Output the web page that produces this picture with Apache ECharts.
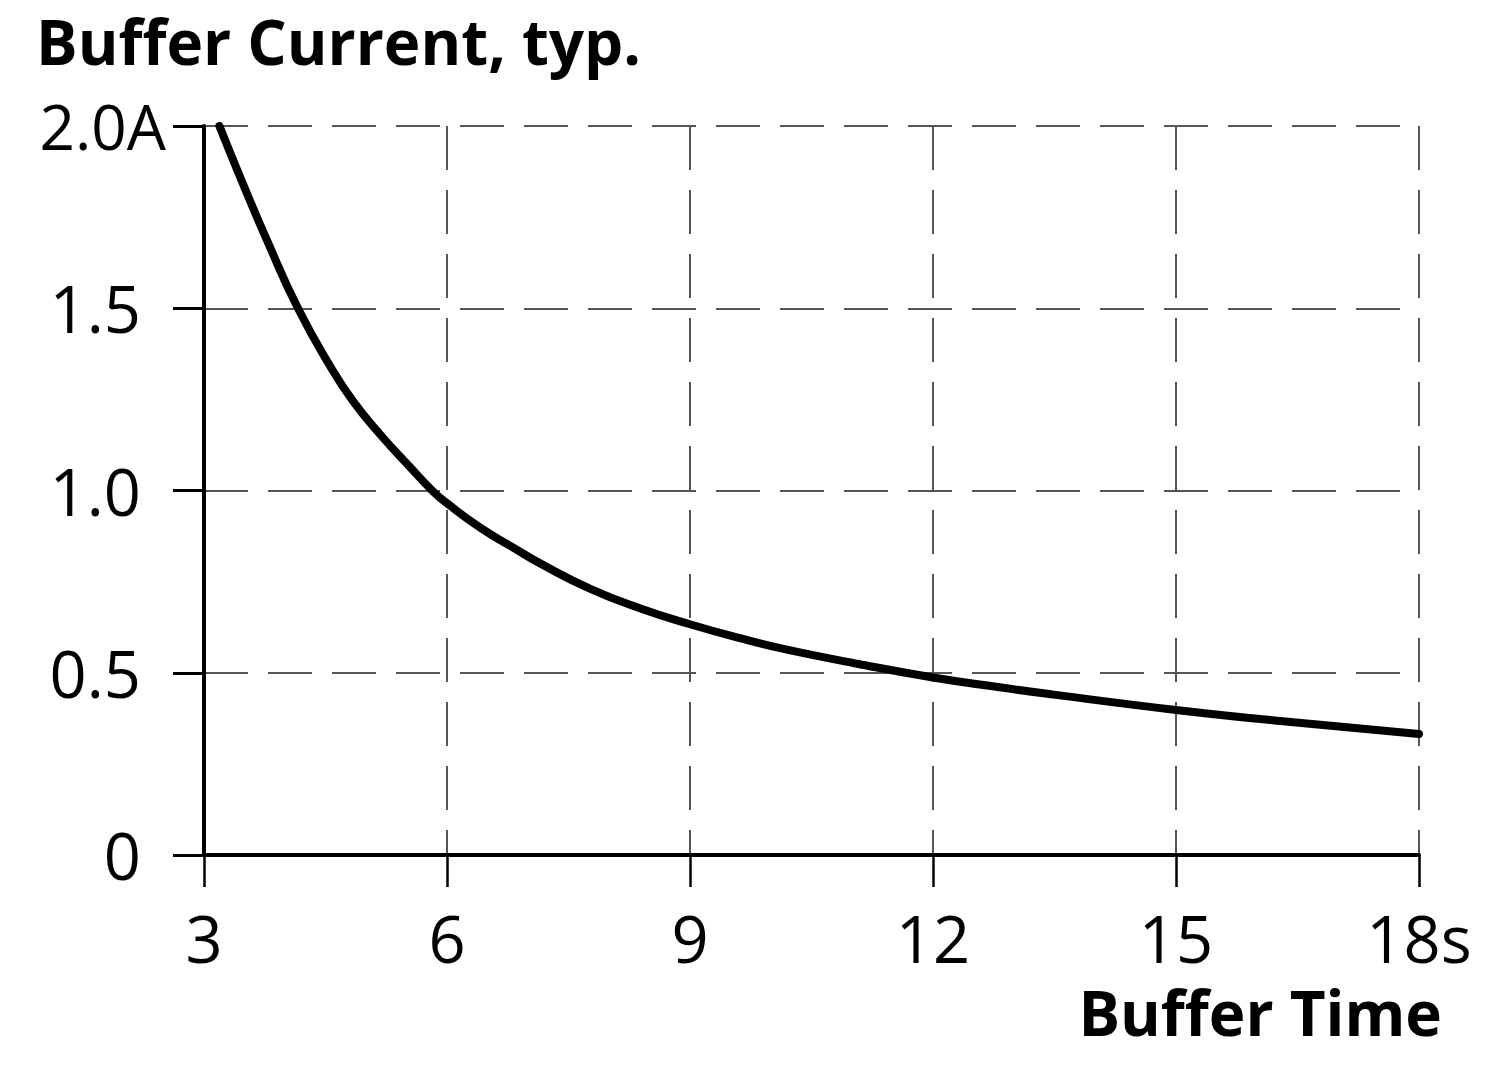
<!DOCTYPE html>
<html><head><meta charset="utf-8">
<script src="https://cdn.jsdelivr.net/npm/echarts@6/dist/echarts.min.js"></script>
<style>html,body{margin:0;padding:0;background:#fff}#c{width:1500px;height:1065px}</style>
</head><body><div id="c"></div>
<script>
const titleText = 'Buffer Current, typ.';
const xAxisTitle = 'Buffer Time';
const xTicks = [3, 6, 9, 12, 15, 18];
const xTickLabels = ['3', '6', '9', '12', '15', '18s'];
const yTicks = [0, 0.5, 1.0, 1.5, 2.0];
const yTickLabels = ['0', '0.5', '1.0', '1.5', '2.0A'];
const bufferTime = [3.19, 3.465, 3.80, 4.16, 4.56, 4.84, 5.17, 5.54, 5.83, 6.00, 6.41, 6.82, 7.15, 7.77, 8.38, 9.00, 9.63, 10.14, 11.08, 12.00, 12.82, 13.49, 15.00, 16.45, 18.00];
const bufferCurrent = [2.00, 1.85, 1.675, 1.50, 1.34, 1.245, 1.155, 1.065, 0.997, 0.965, 0.898, 0.843, 0.800, 0.730, 0.677, 0.633, 0.594, 0.566, 0.524, 0.487, 0.460, 0.440, 0.398, 0.364, 0.332];

const FONT = '"Open Sans", "Noto Sans", sans-serif';
const chart = echarts.init(document.getElementById('c'), null, {renderer: 'svg'});
const grid = {left: 204, right: 81, top: 126, bottom: 210};
const splitStyle = {type: [44, 20], color: '#555', width: 2};

chart.setOption({
  animation: false,
  backgroundColor: '#fff',
  graphic: [{
    type: 'text', left: 36, top: 10,
    style: {text: titleText, font: 'bold 62px ' + FONT, fill: '#000'}
  }, {
    type: 'text', right: 58, top: 981,
    style: {text: xAxisTitle, font: 'bold 62px ' + FONT, lineHeight: 48, fill: '#000'}
  }],
  grid: grid,
  xAxis: {
    type: 'value', min: xTicks[0], max: xTicks[xTicks.length - 1], interval: 3,
    axisLine: {lineStyle: {color: '#000', width: 4}},
    axisTick: {length: 32, lineStyle: {color: '#000', width: 2.5}},
    splitLine: {show: true, lineStyle: splitStyle},
    axisLabel: {
      margin: 59, fontFamily: FONT, fontSize: 65, lineHeight: 48, color: '#000',
      formatter: v => { const i = xTicks.indexOf(v); return i >= 0 ? xTickLabels[i] : ''; }
    }
  },
  yAxis: {
    type: 'value', min: yTicks[0], max: yTicks[yTicks.length - 1], interval: 0.5,
    axisLine: {show: true, lineStyle: {color: '#000', width: 4}},
    axisTick: {show: true, length: 31, lineStyle: {color: '#000', width: 3}},
    splitLine: {show: true, lineStyle: splitStyle},
    axisLabel: {
      margin: 38, fontFamily: FONT, fontSize: 65, lineHeight: 66, color: '#000', align: 'right',
      formatter: v => {
        const i = yTicks.findIndex(t => Math.abs(t - v) < 1e-9);
        if (i < 0) return '';
        const lbl = yTickLabels[i];
        return /[A-Za-z]$/.test(lbl) ? '{u|' + lbl + '}' : '{p|' + lbl + '}';
      },
      rich: {
        p: {fontFamily: FONT, fontSize: 65, lineHeight: 66, color: '#000', padding: [0, 25, 0, 0]},
        u: {fontFamily: FONT, fontSize: 62, lineHeight: 66, color: '#000'}
      }
    }
  },
  series: [{
    type: 'line', smooth: 0.5, showSymbol: false, clip: false,
    data: bufferTime.map((t, i) => [t, bufferCurrent[i]]),
    lineStyle: {color: '#000', width: 8, cap: 'round', join: 'round'}
  }]
});
</script>
</body></html>
